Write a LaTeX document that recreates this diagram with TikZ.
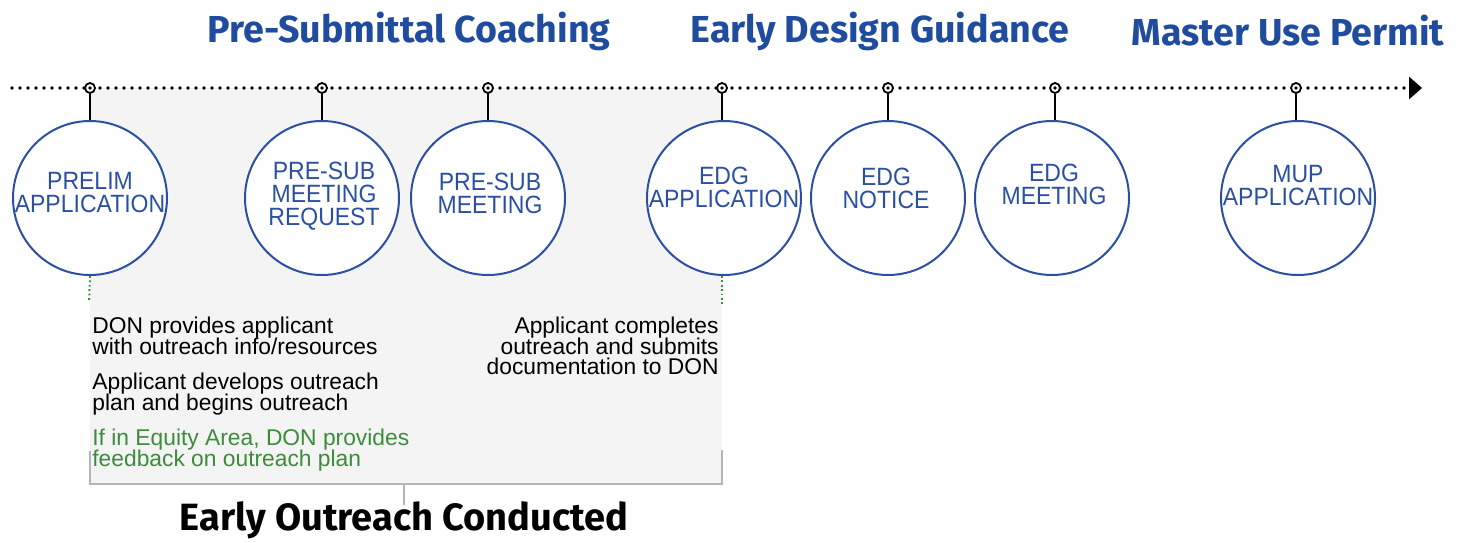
\documentclass[tikz,border=0pt]{standalone}
\usepackage{fontspec}
\setmainfont{Liberation Sans}
\newfontfamily\stagefont{Liberation Sans}[FakeStretch=0.92]
\newfontfamily\headfont{Fira Sans}
\usepackage{tikz}
\usetikzlibrary{arrows.meta}

\definecolor{stageblue}{HTML}{2B50A3}
\definecolor{headblue}{HTML}{1F4C9E}
\definecolor{notegreen}{HTML}{3C8C3C}
\definecolor{boxgray}{HTML}{F4F4F4}
\definecolor{bracketgray}{HTML}{B4B4BC}

\begin{document}
\begin{tikzpicture}
[
x=0.5pt, y=-0.5pt,
stage/.style={circle, draw=stageblue, line width=1pt, fill=white, minimum size=77pt, inner sep=0pt},
stagetext/.style={align=center, text=stageblue, inner sep=0pt, font=\stagefont\fontsize{12.5}{11.5}\selectfont},
marker/.style={circle, draw=black, line width=0.9pt, fill=white, minimum size=5pt, inner sep=0pt},
stem/.style={draw=black, line width=1pt},
timeline/.style={line width=1.9pt, line cap=round, dash pattern=on 0pt off 4pt, -{Triangle[length=6.5pt, width=11pt]}},
note/.style={align=left, inner sep=0pt, font=\fontsize{11.4}{10.25}\selectfont\setlength{\lineskiplimit}{-20pt}},
phase/.style={text=headblue, inner sep=0pt, font=\headfont\bfseries\fontsize{18.8}{18.8}\selectfont},
greendots/.style={draw=notegreen, line width=1pt, dash pattern=on 0.9pt off 1.3pt},
bracket/.style={draw=bracketgray, line width=1pt}
]
\useasboundingbox (0,0) rectangle (1461,542);

%Background
\fill[boxgray] (90,88) rectangle (722,484);

%Headings
\node[phase] (presub_head) at (409,31) {Pre-Submittal Coaching};
\node[phase] (edg_head)    at (880,31) {Early Design Guidance};
\node[phase] (mup_head)    at (1288,31) {Master Use Permit};

%Timeline
\coordinate (t_start) at (12,88);
\coordinate (t_end)   at (1422,88);
\draw[timeline] (t_start) -- (t_end);

%Stages
\node[stage] (prelim)  at (90,198)   {};
\node[stage] (psreq)   at (322,198)  {};
\node[stage] (psmeet)  at (488,198)  {};
\node[stage] (edgapp)  at (724,198)  {};
\node[stage] (edgnot)  at (888,198)  {};
\node[stage] (edgmeet) at (1052,198) {};
\node[stage] (mupapp)  at (1298,198) {};

\node[stagetext] (prelim_t)  at (90,193)     {PRELIM\\APPLICATION};
\node[stagetext] (psreq_t)   at (324,196)    {PRE-SUB\\MEETING\\REQUEST};
\node[stagetext] (psmeet_t)  at (490,193)    {PRE-SUB\\MEETING};
\node[stagetext] (edgapp_t)  at (724,187)    {EDG\\APPLICATION};
\node[stagetext] (edgnot_t)  at (886,188)    {EDG\\NOTICE};
\node[stagetext] (edgmeet_t) at (1054,184)   {EDG\\MEETING};
\node[stagetext] (mupapp_t)  at (1298,186)   {MUP\\APPLICATION};

%Markers
\foreach \name/\xpos in {prelim/90, psreq/322, psmeet/488, edgapp/722, edgnot/888, edgmeet/1055, mupapp/1296}
{
  \node[marker] (m_\name) at (\xpos,88) {};
  \draw[stem] (m_\name.south) -- (m_\name.south |- \name.north);
  \fill (m_\name) circle (0.9pt);
}

%Outreach notes
\coordinate (g1) at (89,302);
\coordinate (g2) at (722,305);
\draw[greendots] (prelim.south) -- (g1);
\draw[greendots] (edgapp.south -| g2) -- (g2);

\node[note, anchor=north west] (don_info) at (92,317)
  {DON provides applicant\\with outreach info/resources};
\node[note, anchor=north west] (app_plan) at (92,373)
  {Applicant develops outreach\\plan and begins outreach};
\node[note, anchor=north west, text=notegreen] (equity) at (92,429)
  {If in Equity Area, DON provides\\feedback on outreach plan};
\node[note, anchor=north east, align=right] (app_done) at (719,317)
  {Applicant completes\\outreach and submits\\documentation to DON};

%Bracket
\coordinate (b_left)  at (90,451);
\coordinate (b_right) at (722,450);
\coordinate (b_mid)   at (404,484);
\node[text=black, inner sep=0pt, font=\headfont\bfseries\fontsize{19}{19}\selectfont, anchor=base] (outreach_head) at (404,530) {Early Outreach Conducted};
\draw[bracket] (b_left) |- (b_right |- b_mid) -- (b_right);
\draw[bracket] (b_mid) -- (b_mid |- 0,505);
\end{tikzpicture}
\end{document}
